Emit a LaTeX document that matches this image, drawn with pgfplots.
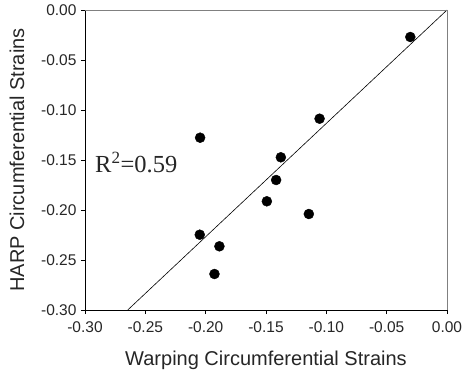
\documentclass[border=0pt]{standalone}
\usepackage{pgfplots}
\pgfplotsset{compat=1.18}
\usepackage{fontspec}
\setmainfont{Liberation Sans}
\newfontfamily\timesfont{Liberation Serif}
\begin{document}
\begin{tikzpicture}
\useasboundingbox (-85bp,-66bp) rectangle (377bp,310bp);
\begin{axis}[
  scale only axis,
  width=362bp, height=300bp,
  xmin=-0.30, xmax=0, ymin=-0.30, ymax=0,
  axis lines*=left,
  axis line style={black, line width=0.8bp},
  xtick={-0.30,-0.25,...,0.001}, ytick={-0.30,-0.25,...,0.001},
  /pgf/number format/assume math mode=true,
  xticklabel={\pgfmathprintnumber[fixed,fixed zerofill,precision=2]{\tick}},
  yticklabel={\pgfmathprintnumber[fixed,fixed zerofill,precision=2]{\tick}},
  ticklabel style={font=\fontsize{15.5bp}{18bp}\selectfont, text=black!85},
  xticklabel style={yshift=-4bp},
  yticklabel style={xshift=-1bp},
  tick style={black, line width=0.8bp},
  tick align=outside,
  major tick length=4bp,
  xlabel={Warping Circumferential Strains},
  ylabel={HARP Circumferential Strains},
  label style={font=\fontsize{20bp}{24bp}\selectfont, text=black!85},
  xlabel style={yshift=-12bp},
  ylabel style={yshift=10bp},
  clip=false,
]
\addplot[only marks, mark=*, mark size=5bp, black] coordinates {
(-0.0304,-0.0270)
(-0.1056,-0.1087)
(-0.2046,-0.1277)
(-0.1377,-0.1473)
(-0.1416,-0.1700)
(-0.1493,-0.1913)
(-0.1145,-0.2040)
(-0.2049,-0.2247)
(-0.1886,-0.2363)
(-0.1927,-0.2640)
};
\addplot[black, line width=0.6bp] coordinates {(-0.2646,-0.30) (0,0)};
\draw[gray, line width=1bp] (rel axis cs:0,1) -- (rel axis cs:1,1) -- (rel axis cs:1,0);
\node[anchor=base west, font=\timesfont\fontsize{24.5bp}{28bp}\selectfont, text=black!85, inner sep=0pt]
  at (axis cs:-0.2917,-0.162) {R\textsuperscript{2}=0.59};
\end{axis}
\end{tikzpicture}
\end{document}
